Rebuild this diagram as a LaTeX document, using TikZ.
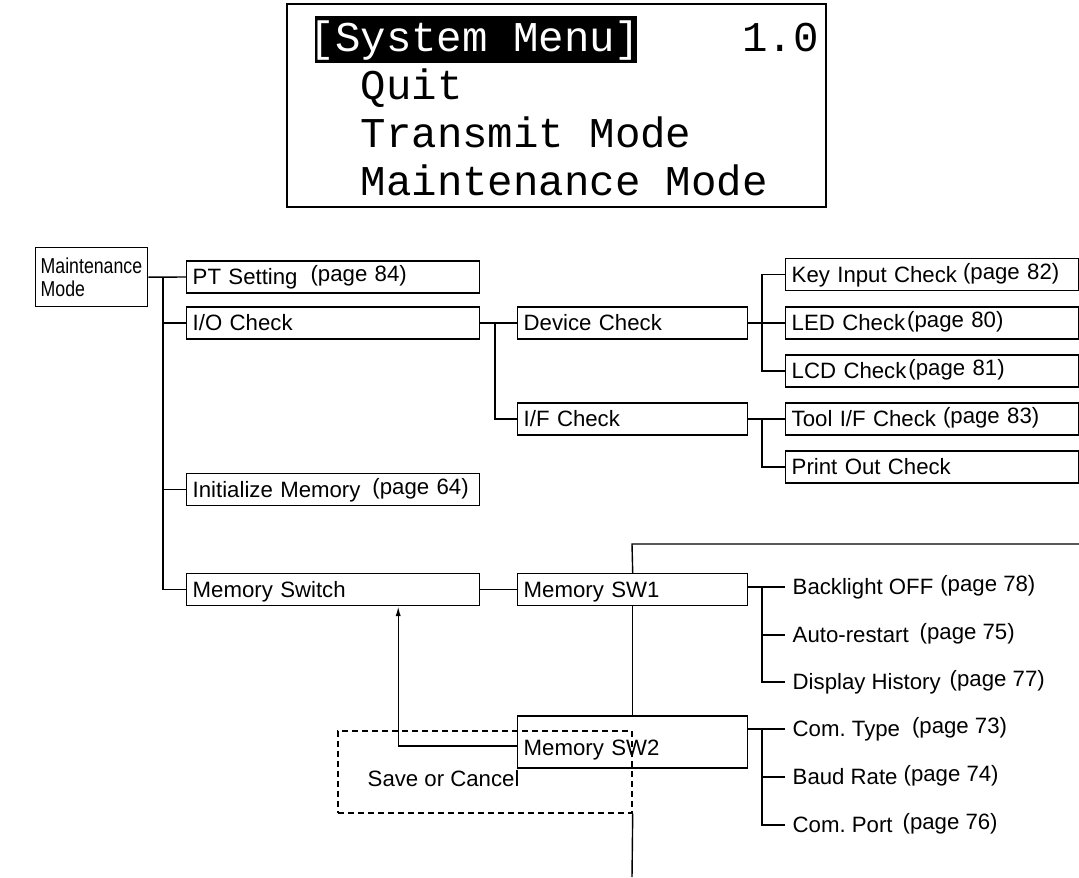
\documentclass[tikz,border=0pt]{standalone}
\usepackage{fontspec}
\setmainfont{Liberation Sans}
\newfontfamily\lcdfont{Liberation Mono}
\newfontfamily\narrowfont{Liberation Sans}[FakeStretch=0.82]
\usetikzlibrary{arrows.meta,positioning,calc}

\newcommand{\pg}[2]{\hspace{#1}\raisebox{1.5pt}{(page #2)}}

\begin{document}
\begin{tikzpicture}[x=0.5pt,y=-0.5pt,line width=0.7pt,
  font=\fontsize{11.1}{13}\selectfont,
  ar/.style={-{Latex[length=5pt,width=2.6pt]}},
  bx/.style={draw,anchor=west,text width=#1,align=left,inner xsep=3pt,inner ysep=0pt,
    text height=7.9pt,text depth=0pt,minimum height=16pt},
  bx/.default=140.5pt,
  leaf/.style={anchor=west,inner sep=0pt,text height=7.9pt,text depth=0pt},
  lcd/.style={anchor=base west,inner sep=0pt,font=\lcdfont\fontsize{21.2}{25}\selectfont}]
\useasboundingbox (0,0) rectangle (1079,877);

% screen
\node[draw,minimum width=269.5pt,minimum height=101.5pt,inner sep=0pt] (scr) at (556.5,105.5) {};
\node[fill=black,minimum width=161pt,minimum height=23.5pt,inner sep=0pt] (hl) at (476,39.5) {};
\node[lcd,text=white] (ttl) at (309,52) {[System Menu]};
\node[lcd] (ver) at (741.5,52) {1.0};
\node[lcd] (qt) at (360,100) {Quit};
\node[lcd] (tm) at (360,148) {Transmit Mode};
\node[lcd] (mt) at (360,196) {Maintenance Mode};

% menu tree
\node[draw,anchor=north west,text width=51pt,align=left,inner xsep=2.5pt,minimum height=29.5pt,
  font=\narrowfont\fontsize{10.8}{11.5}\selectfont] (mm) at (35,247) {Maintenance\\Mode};
\node[bx] (pt) at (186,277) {PT Setting\pg{6.5pt}{84}};
\node[bx] (io) at (186,323) {I/O Check};
\node[bx] (init) at (186,489.5) {Initialize Memory\pg{6pt}{64}};
\node[bx] (msw) at (186,589.5) {Memory Switch};

\node[bx=109pt] (dev) at (517,323) {Device Check};
\node[bx=109pt] (ifc) at (517,419) {I/F Check};
\node[bx=109pt] (sw1) at (517,589.5) {Memory SW1};
\node[bx=109pt,text height=19.5pt,text depth=6.5pt] (sw2) at (517,742) {Memory SW2};

\node[bx] (key) at (785,274.5) {Key Input Check\pg{3pt}{82}};
\node[bx] (led) at (785,323) {LED Check\pg{1pt}{80}};
\node[bx] (lcc) at (785,371) {LCD Check\pg{1pt}{81}};
\node[bx] (tool) at (785,419) {Tool I/F Check\pg{3.5pt}{83}};
\node[bx] (prn) at (785,467) {Print Out Check};

\node[leaf] (bk) at (792,587) {Backlight OFF\pg{3.5pt}{78}};
\node[leaf] (au) at (792,635) {Auto-restart\pg{5.5pt}{75}};
\node[leaf] (dh) at (792,682) {Display History\pg{4.5pt}{77}};
\node[leaf] (ct) at (792,729) {Com.\ Type\pg{6pt}{73}};
\node[leaf] (br) at (792,777) {Baud Rate\pg{3pt}{74}};
\node[leaf] (cp) at (792,825) {Com.\ Port\pg{5pt}{76}};

\node[draw,dash pattern=on 3pt off 2pt,minimum width=147pt,minimum height=41pt,inner sep=0pt] (sv) at (485,772) {};
\node[leaf] (sc) at (367,779) {Save or Cancel};

\coordinate (tk) at (163,0);
\coordinate (mk) at (495,0);
\coordinate (rk) at (762,0);
\coordinate (tp) at (632,544);
\coordinate (te) at (1079,544);
\coordinate (bt) at (632,877);

\draw (mm.east) -- (pt.west);
\draw (tk |- pt.west) |- (msw.west);
\draw (tk |- io.west) -- (io.west);
\draw (tk |- init.west) -- (init.west);
\draw (io.east) -- (dev.west);
\draw (mk |- dev.west) |- (ifc.west);
\draw (dev.east) -- (led.west);
\draw (key.west) -- (rk |- key.west) |- (lcc.west);
\draw (ifc.east) -- (tool.west);
\draw (rk |- tool.west) |- (prn.west);
\draw (msw.east) -- (sw1.west);
\draw (te) -- (tp) -- (sw1.north);
\draw (sw1.south) -- (sw2.north);
\draw (sv.south east) -- (bt);
\draw[ar] ([yshift=-2pt]sw2.west) -| ([xshift=32.5pt]msw.south);

\draw (sw1.east |- bk.west) -- ([xshift=-3.5pt]bk.west);
\draw (rk |- bk.west) |- ([xshift=-3.5pt]dh.west);
\draw (rk |- au.west) -- ([xshift=-3.5pt]au.west);
\draw (sw2.east |- ct.west) -- ([xshift=-3.5pt]ct.west);
\draw (rk |- ct.west) |- ([xshift=-3.5pt]cp.west);
\draw (rk |- br.west) -- ([xshift=-3.5pt]br.west);
\end{tikzpicture}
\end{document}
